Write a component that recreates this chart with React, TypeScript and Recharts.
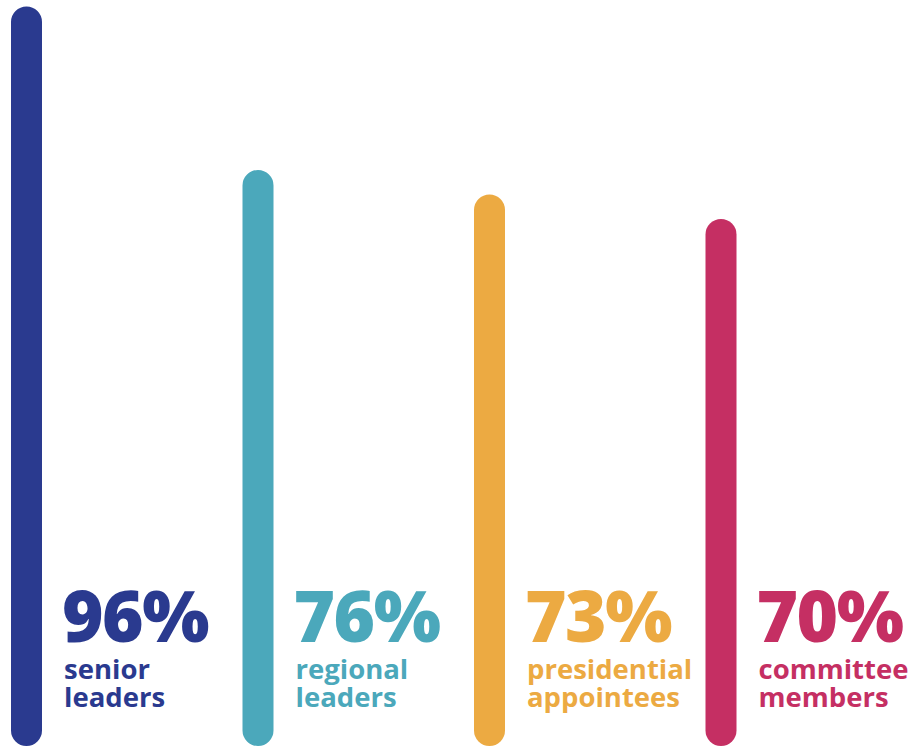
import { BarChart, Bar, XAxis, YAxis, Cell, LabelList } from "recharts";

const groups = ["senior leaders", "regional leaders", "presidential appointees", "committee members"];
const firstLines = ["senior", "regional", "presidential", "committee"];
const secondLines = ["leaders", "leaders", "appointees", "members"];
const shares = [96, 76, 73, 70];
const colors = ["#2A3A8F", "#4BA8BB", "#ECAA42", "#C52F63"];

const data = groups.map((name, i) => ({
  name,
  value: shares[i],
}));

const renderLabel = (props: any) => {
  const { x, y, width, height, index } = props;
  const bottom = y + height;
  const left = x + width + 20;
  const color = colors[index];
  return (
    <g>
      <text
        x={left}
        y={bottom - 104}
        fill={color}
        fontFamily="'Open Sans', sans-serif"
        fontWeight={800}
        fontSize={71}
        letterSpacing={-1.5}
      >
        {shares[index] + "%"}
      </text>
      <text
        x={left + 2}
        y={bottom - 67}
        fill={color}
        fontFamily="'Open Sans', sans-serif"
        fontWeight={700}
        fontSize={27.5}
      >
        {firstLines[index]}
      </text>
      <text
        x={left + 2}
        y={bottom - 39}
        fill={color}
        fontFamily="'Open Sans', sans-serif"
        fontWeight={700}
        fontSize={27.5}
      >
        {secondLines[index]}
      </text>
    </g>
  );
};

export default function App() {
  return (
    <div
      style={{
        position: "fixed",
        left: 0,
        top: 0,
        width: 910,
        height: 746,
        overflow: "hidden",
        background: "#fff",
      }}
    >
      <BarChart
        width={910}
        height={746}
        data={data}
        margin={{ top: 0, right: 73, left: -89, bottom: 0 }}
        barCategoryGap={0}
        style={{ display: "block" }}
      >
        <XAxis dataKey="name" hide />
        <YAxis hide domain={[5.5, 96.8]} allowDataOverflow />
        <Bar
          dataKey="value"
          barSize={31}
          radius={[15.5, 15.5, 15.5, 15.5]}
          isAnimationActive={false}
        >
          {data.map((d, i) => (
            <Cell key={d.name} fill={colors[i]} />
          ))}
          <LabelList dataKey="value" content={renderLabel} />
        </Bar>
      </BarChart>
    </div>
  );
}
